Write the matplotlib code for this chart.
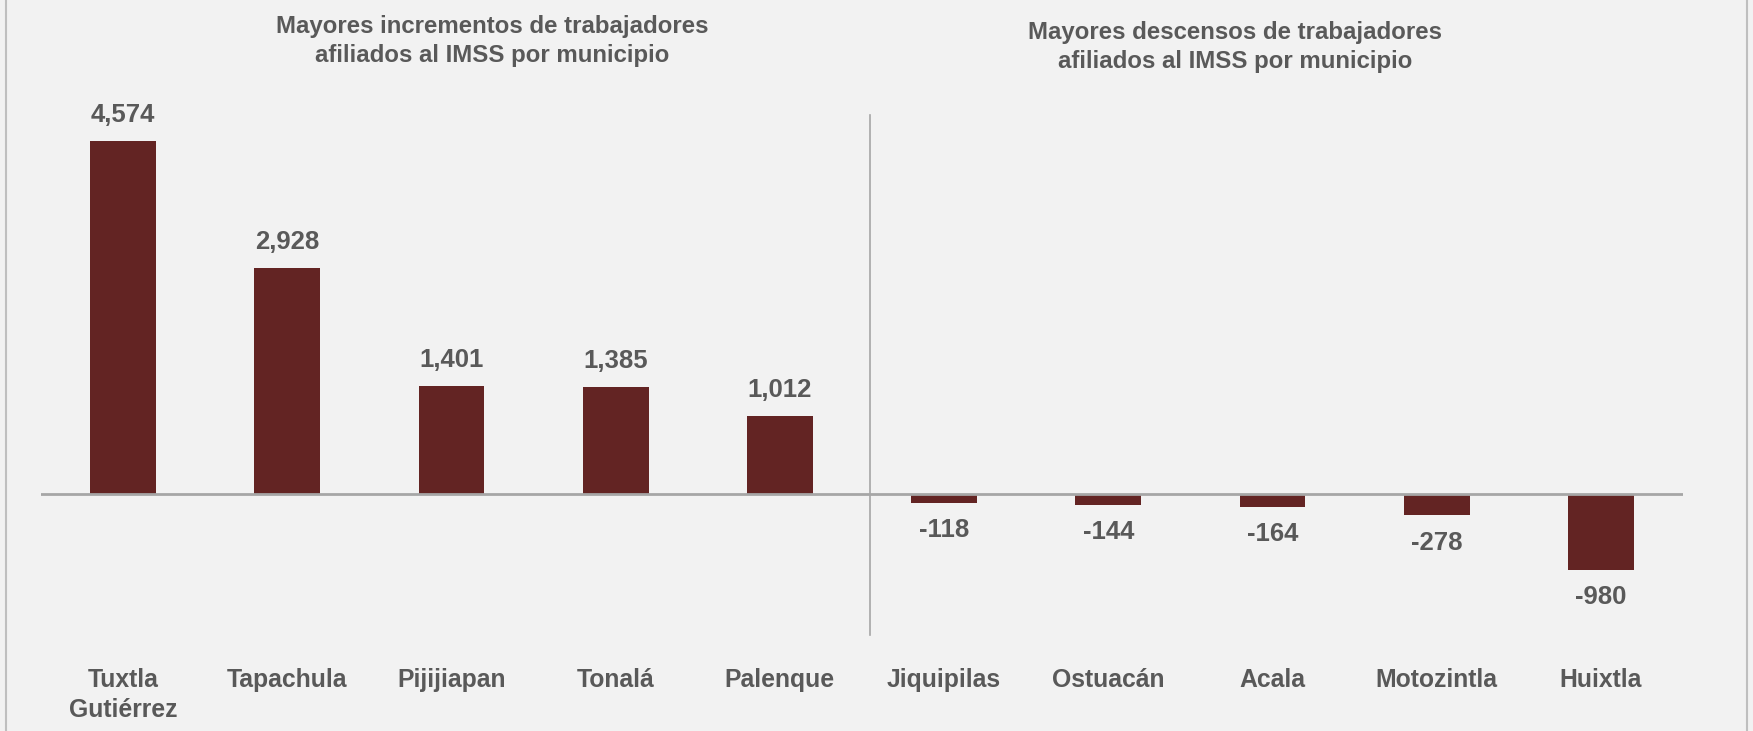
import matplotlib
matplotlib.use("Agg")
import matplotlib.pyplot as plt
from matplotlib.lines import Line2D

municipios = ["Tuxtla\nGutiérrez", "Tapachula", "Pijijiapan", "Tonalá", "Palenque",
              "Jiquipilas", "Ostuacán", "Acala", "Motozintla", "Huixtla"]
valores = [4574, 2928, 1401, 1385, 1012, -118, -144, -164, -278, -980]
titulo_izq = "Mayores incrementos de trabajadores\nafiliados al IMSS por municipio"
titulo_der = "Mayores descensos de trabajadores\nafiliados al IMSS por municipio"

W, H = 1753, 731
BG = "#f2f2f2"
BAR = "#632423"
TXT = "#595959"
FONT = ["Liberation Sans", "DejaVu Sans"]

fig = plt.figure(figsize=(W / 100, H / 100), dpi=100, facecolor=BG)

# axes placement in pixels
ax_l, ax_r = 41, 1683
ax_t, ax_b = 100, 650
base_y = 494
scale = (base_y - 141) / 4574.0  # px per unit
ax = fig.add_axes([ax_l / W, 1 - ax_b / H, (ax_r - ax_l) / W, (ax_b - ax_t) / H])
ax.set_facecolor(BG)
ax.set_xlim(-0.5, len(valores) - 0.5)
ax.set_ylim(-(ax_b - base_y) / scale, (base_y - ax_t) / scale)

x = list(range(len(valores)))
ax.bar(x, valores, width=0.4, color=BAR, zorder=2)
ax.axhline(0, color="#a6a6a6", lw=2, zorder=3)

for xi, v in zip(x, valores):
    if v >= 0:
        ax.annotate(f"{v:,}", (xi, v), xytext=(0, 10), textcoords="offset points",
                    ha="center", va="bottom", fontsize=18.5, fontweight="bold",
                    color=TXT, family=FONT)
    else:
        ax.annotate(f"{v:,}", (xi, v), xytext=(0, -11), textcoords="offset points",
                    ha="center", va="top", fontsize=18.5, fontweight="bold",
                    color=TXT, family=FONT)

# divider between the two groups
ax.plot([4.55, 4.55], [(base_y - 115) / scale, -(635 - base_y) / scale],
        color="#a6a6a6", lw=1.2, zorder=1, clip_on=False)

ax.set_xticks(x)
ax.set_xticklabels(municipios, fontsize=17.8, fontweight="bold", color=TXT,
                   family=FONT, linespacing=1.3)
ax.tick_params(axis="x", length=0, pad=13)
ax.set_yticks([])
for s in ax.spines.values():
    s.set_visible(False)

fig.text(492 / W, 1 - 41 / H, titulo_izq, ha="center", va="center", fontsize=17.3,
         fontweight="bold", color=TXT, family=FONT, linespacing=1.35)
fig.text(1235 / W, 1 - 47 / H, titulo_der, ha="center", va="center", fontsize=17.3,
         fontweight="bold", color=TXT, family=FONT, linespacing=1.35)

# outer frame lines (left/right)
fig.add_artist(Line2D([6 / W, 6 / W], [0, 1], color="#bfbfbf", lw=1.5))
fig.add_artist(Line2D([1747 / W, 1747 / W], [0, 1], color="#bfbfbf", lw=1.5))

fig.savefig("out.png", dpi=100, facecolor=BG)
